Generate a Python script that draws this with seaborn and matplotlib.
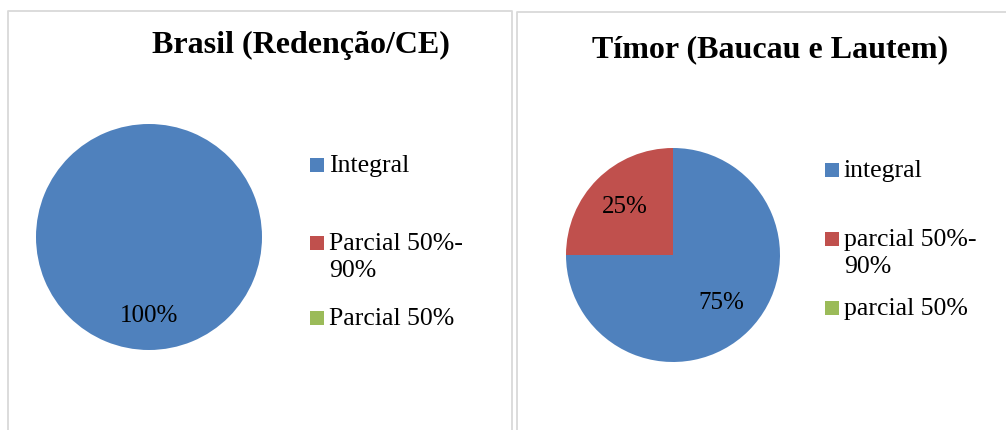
# pie charts: full vs partial, Brasil and Timor
import seaborn as sns
import matplotlib.pyplot as plt
from matplotlib.patches import Rectangle
from matplotlib.lines import Line2D

sns.set_theme(style="white")
plt.rcParams['font.family'] = ['Liberation Serif', 'DejaVu Serif']

# data
brasil_title = "Brasil (Redenção/CE)"
brasil_labels = ["Integral", "Parcial 50%-\n90%", "Parcial 50%"]
brasil_values = [100, 0, 0]

timor_title = "Tímor (Baucau e Lautem)"
timor_labels = ["integral", "parcial 50%-\n90%", "parcial 50%"]
timor_values = [75, 25, 0]

colors = ["#4F81BD", "#C0504D", "#9BBB59"]

W, H = 1006, 430
fig = plt.figure(figsize=(W / 100, H / 100), dpi=100)

def fx(px):
    return px / W

def fy(py):
    return 1 - py / H

# panel borders (light grey frames)
frame = "#d9d9d9"
fig.add_artist(Line2D([fx(8), fx(8), fx(512), fx(512)], [0, fy(11), fy(11), 0],
                      color=frame, lw=1.3, transform=fig.transFigure))
fig.add_artist(Line2D([fx(517), fx(517), 1], [0, fy(12), fy(12)],
                      color=frame, lw=1.3, transform=fig.transFigure))

def pct_fmt(p):
    return f"{p:.0f}%" if p > 0.5 else ""

panels = [
    # title, labels, values, pie centre, radius, label dist, title centre, legend x, legend rows
    (brasil_title, brasil_labels, brasil_values, (149, 237), 113, 0.70, (301, 45), 310, [165, 243, 318]),
    (timor_title, timor_labels, timor_values, (673, 255), 107, 0.64, (770, 50), 825, [170, 239, 308]),
]

for title, labels, values, (cx, cy), r, pdist, (tx, ty), lx, rows in panels:
    ax = fig.add_axes([fx(cx - r), fy(cy + r), fx(2 * r), (2 * r) / H])
    ax.pie(values, colors=colors, startangle=90, counterclock=False,
           autopct=pct_fmt, pctdistance=pdist,
           textprops=dict(fontsize=18, color="black"),
           wedgeprops=dict(linewidth=0))
    ax.set_xlim(-1, 1)
    ax.set_ylim(-1, 1)
    ax.set_aspect("equal")
    ax.axis("off")

    fig.text(fx(tx), fy(ty), title, ha="center", va="center",
             fontsize=23, fontweight="bold", color="black")

    # legend entries
    for lab, col, ry in zip(labels, colors, rows):
        fig.add_artist(Rectangle((fx(lx), fy(ry + 7)), fx(14), 14 / H,
                                 facecolor=col, edgecolor="none",
                                 transform=fig.transFigure))
        fig.text(fx(lx + 19), fy(ry - 10), lab, ha="left", va="top",
                 fontsize=18.5, color="black", linespacing=1.3)

fig.savefig("out.png", dpi=100, facecolor="white")
